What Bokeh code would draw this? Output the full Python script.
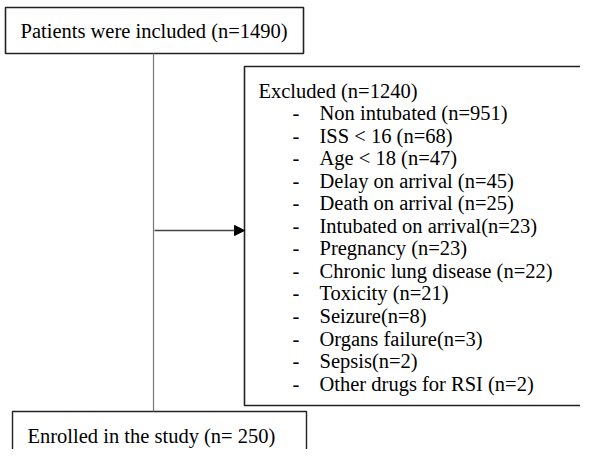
from bokeh.plotting import figure
from bokeh.models import Range1d, Arrow, NormalHead, ColumnDataSource
from bokeh.core.properties import value
from bokeh.embed import file_html
from bokeh.resources import INLINE

# ---- data (texts of the flow chart) ----
top_label = "Patients were included (n=1490)"
excluded_header = "Excluded (n=1240)"
excluded_items = [
    "Non intubated (n=951)",
    "ISS < 16 (n=68)",
    "Age < 18 (n=47)",
    "Delay on arrival (n=45)",
    "Death on arrival (n=25)",
    "Intubated on arrival(n=23)",
    "Pregnancy (n=23)",
    "Chronic lung disease (n=22)",
    "Toxicity (n=21)",
    "Seizure(n=8)",
    "Organs failure(n=3)",
    "Sepsis(n=2)",
    "Other drugs for RSI (n=2)",
]
enrolled_label = "Enrolled in the study (n= 250)"

W, H = 580, 449
p = figure(width=W, height=H, output_backend="svg", toolbar_location=None,
           x_range=Range1d(0, W), y_range=Range1d(H, 0),
           min_border=0, outline_line_color=None)
p.axis.visible = False
p.grid.visible = False
p.background_fill_color = "white"

FONT = value("Liberation Serif")
FS = "20.5px"

# boxes (left, right, top, bottom in page pixels)
p.quad(left=[5], right=[303], top=[7], bottom=[53], fill_color="white",
       line_color="#222222", line_width=1.6)
p.quad(left=[244], right=[610], top=[66], bottom=[405], fill_color="white",
       line_color="#222222", line_width=1.6)
p.quad(left=[12], right=[306], top=[411], bottom=[480], fill_color="white",
       line_color="#222222", line_width=1.4)

# connector lines
p.segment(x0=[153], y0=[53], x1=[153], y1=[411], line_color="#777777", line_width=1.2)
p.add_layout(Arrow(end=NormalHead(size=10, fill_color="black", line_color="black"),
                   x_start=154, y_start=230, x_end=244, y_end=230,
                   line_color="#444444", line_width=1.3))

# texts
p.text(x=[20], y=[30], text=[top_label], text_font=FONT, text_font_size=FS,
       text_baseline="middle", text_color="black")
p.text(x=[27], y=[435], text=[enrolled_label], text_font=FONT, text_font_size=FS,
       text_baseline="middle", text_color="black")
p.text(x=[258], y=[90], text=[excluded_header], text_font=FONT, text_font_size=FS,
       text_baseline="middle", text_color="black")

ys = [112.5 + 22.55 * i for i in range(len(excluded_items))]
src = ColumnDataSource(dict(y=ys, t=excluded_items, d=["-"] * len(excluded_items)))
p.text(x=292, y="y", text="d", source=src, text_font=FONT, text_font_size=FS,
       text_baseline="middle", text_color="black")
p.text(x=319, y="y", text="t", source=src, text_font=FONT, text_font_size=FS,
       text_baseline="middle", text_color="black")

open("out.html", "w").write(file_html(p, INLINE))
